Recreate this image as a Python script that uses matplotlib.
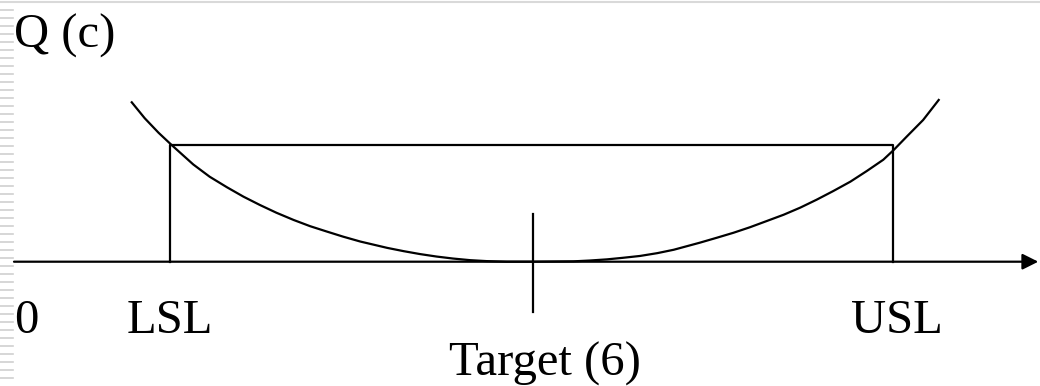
import numpy as np
import matplotlib
matplotlib.use("Agg")
import matplotlib.pyplot as plt

# Quality loss curve Q(c)
curveX = [1.36, 1.51, 1.67, 1.82, 2.07, 2.26, 2.46, 2.65, 2.84, 3.03, 3.23, 3.42,
          3.61, 3.80, 4.00, 4.31, 4.50, 4.69, 4.88, 5.07, 5.27, 5.46, 5.69, 6.00,
          6.46, 6.65, 6.85, 7.03, 7.23, 7.43, 7.62,
          7.92, 8.12, 8.31, 8.50, 8.69, 8.89, 9.08, 9.27, 9.46, 9.66, 9.85, 10.04,
          10.16, 10.31, 10.50, 10.68]
curveQ = [1.360, 1.224, 1.100, 0.996, 0.830, 0.725, 0.635, 0.555, 0.484, 0.418, 0.356, 0.303,
          0.258, 0.214, 0.172, 0.118, 0.090, 0.065, 0.044, 0.027, 0.013, 0.005, 0.0, 0.0,
          0.003, 0.010, 0.020, 0.033, 0.049, 0.073, 0.102,
          0.162, 0.205, 0.247, 0.294, 0.346, 0.401, 0.461, 0.529, 0.602, 0.683, 0.774, 0.870,
          0.953, 1.067, 1.209, 1.380]

target = 6.0
LSL = 1.80
USL = 10.15
specLoss = 1.0          # height of the box drawn between the limits
axisEnd = 11.83
tickTop, tickBottom = 0.41, -0.43

labelFont = "Liberation Serif"
fontSize = 35

fig = plt.figure(figsize=(10.4, 3.86), dpi=100)
ax = fig.add_axes([0, 0, 1, 1])
ax.set_xlim(-0.1617, 11.85)
ax.set_ylim(-1.0606, 2.233)
ax.axis("off")

# the loss curve
ax.plot(curveX, curveQ, color="black", lw=1.6, solid_joinstyle="round")

# spec limits box
ax.plot([LSL, LSL, USL, USL], [0, specLoss, specLoss, 0], color="black", lw=1.6)

# horizontal axis with arrow
ax.annotate("", xy=(axisEnd, 0), xytext=(0, 0),
            arrowprops=dict(arrowstyle="-|>", lw=1.6, color="black",
                            mutation_scale=24, shrinkA=0, shrinkB=0))

# target tick
ax.plot([target, target], [tickBottom, tickTop], color="black", lw=1.6)

# labels
ax.text(0, 1.823, "Q (c)", family=labelFont, fontsize=fontSize, ha="left", va="baseline")
ax.text(0, -0.608, "0", family=labelFont, fontsize=fontSize, ha="left", va="baseline")
ax.text(LSL, -0.608, "LSL", family=labelFont, fontsize=fontSize, ha="center", va="baseline")
ax.text(USL + 0.05, -0.608, "USL", family=labelFont, fontsize=fontSize, ha="center", va="baseline")
ax.text(target + 0.13, -0.968, "Target (6)", family=labelFont, fontsize=fontSize,
        ha="center", va="baseline")

# slide frame: grey top line and striped left border (pixel coords)
deco = fig.add_axes([0, 0, 1, 1], facecolor="none")
deco.set_xlim(0, 1040)
deco.set_ylim(386, 0)
deco.axis("off")
deco.axhline(2, color="#d9d9d9", lw=1.5)
for yy in np.arange(10, 386, 8):
    deco.plot([0, 13], [yy, yy], color="#d0d0d0", lw=1.2)

fig.savefig("out.png", dpi=100)
